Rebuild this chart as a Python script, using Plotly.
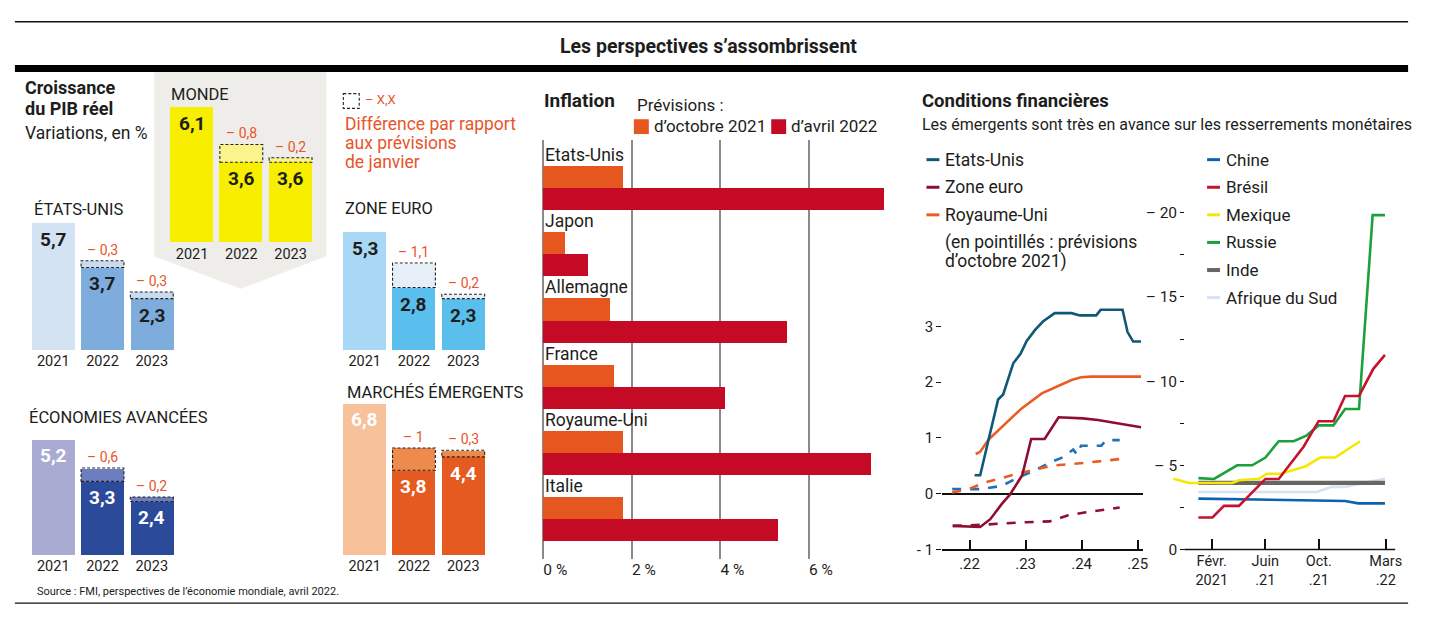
import plotly.graph_objects as go

W, H = 1436, 624
def fx(px): return px / W
def fy(py): return 1 - py / H

FONT = "Roboto, 'Open Sans', sans-serif"
TXT = "#1d1d1b"
RED_TXT = "#e8542a"

# ---------------- DATA ----------------
years = ["2021", "2022", "2023"]
monde = [6.1, 3.6, 3.6];       monde_rev = [0, 0.8, 0.2]
usa = [5.7, 3.7, 2.3];         usa_rev = [0, 0.3, 0.3]
zone_euro = [5.3, 2.8, 2.3];   ze_rev = [0, 1.1, 0.2]
avancees = [5.2, 3.3, 2.4];    av_rev = [0, 0.6, 0.2]
emergents = [6.8, 3.8, 4.4];   em_rev = [0, 1.0, 0.3]

countries = ["Etats-Unis", "Japon", "Allemagne", "France", "Royaume-Uni", "Italie"]
infl_oct = [1.8, 0.5, 1.5, 1.6, 1.8, 1.8]
infl_apr = [7.7, 1.0, 5.5, 4.1, 7.4, 5.3]

us_x = [2022.09, 2022.19, 2022.34, 2022.51, 2022.60, 2022.78, 2022.91, 2023.02, 2023.17, 2023.31,
        2023.52, 2023.82, 2023.97, 2024.26, 2024.34, 2024.73, 2024.82, 2024.92, 2025.06]
us_y = [0.33, 0.33, 0.97, 1.69, 1.78, 2.34, 2.51, 2.74, 2.94, 3.09,
        3.24, 3.24, 3.20, 3.20, 3.30, 3.30, 2.90, 2.73, 2.73]
uk_x = [2022.11, 2022.19, 2022.34, 2022.58, 2022.93, 2023.29, 2023.52, 2023.82, 2023.99, 2024.17, 2025.06]
uk_y = [0.71, 0.75, 0.97, 1.20, 1.53, 1.80, 1.91, 2.04, 2.09, 2.10, 2.10]
ez_x = [2021.70, 2022.19, 2022.37, 2022.58, 2022.72, 2022.94, 2023.10, 2023.34, 2023.59, 2024.02, 2024.29, 2025.06]
ez_y = [-0.58, -0.60, -0.46, -0.18, -0.02, 0.33, 0.98, 0.98, 1.37, 1.35, 1.32, 1.19]
us_f_x = [2021.69, 2022.22, 2022.58, 2022.87, 2023.17, 2023.46, 2023.64, 2023.85, 2023.92, 2023.99, 2024.35, 2024.44, 2024.68]
us_f_y = [0.08, 0.08, 0.14, 0.29, 0.42, 0.57, 0.64, 0.79, 0.70, 0.86, 0.86, 0.96, 0.96]
uk_f_x = [2021.69, 2021.98, 2022.28, 2022.87, 2023.46, 2024.05, 2024.68]
uk_f_y = [0.02, 0.08, 0.20, 0.36, 0.50, 0.55, 0.62]
ez_f_x = [2021.70, 2022.22, 2022.87, 2023.43, 2023.76, 2024.05, 2024.68]
ez_f_y = [-0.58, -0.56, -0.52, -0.50, -0.39, -0.34, -0.25]

# months since January 2021
mex_m = [-1.86, -0.69, 2.53, 3.03, 4.52, 5.13, 6.13, 7.99, 9.10, 10.22, 12.08]
mex_v = [4.20, 3.95, 3.95, 4.11, 4.20, 4.50, 4.50, 4.93, 5.46, 5.46, 6.43]
rus_m = [0.0, 1.17, 2.90, 4.02, 5.01, 6.0, 7.12, 8.11, 8.98, 10.09, 10.96, 12.0, 13.02, 13.94]
rus_v = [4.24, 4.19, 5.0, 5.0, 5.46, 6.43, 6.43, 6.78, 7.37, 7.37, 8.34, 8.34, 19.86, 19.86]
bra_m = [0.0, 1.05, 1.91, 3.03, 5.01, 6.0, 7.86, 8.98, 10.09, 10.96, 12.0, 13.07, 13.94]
bra_v = [1.90, 1.90, 2.59, 2.59, 4.19, 4.19, 6.10, 7.62, 7.62, 9.12, 9.12, 10.73, 11.56]
ind_m = [0.0, 13.94];  ind_v = [3.95, 3.95]
saf_m = [0.0, 8.85, 9.97, 10.96, 12.08, 13.94]
saf_v = [3.41, 3.41, 3.72, 3.72, 3.91, 4.20]
chn_m = [0.0, 10.22, 10.96, 11.95, 13.94]
chn_v = [3.02, 2.92, 2.88, 2.74, 2.74]
month_ticks = [1, 5, 9, 14]
month_labels = ["Févr.<br>2021", "Juin<br>.21", "Oct.<br>.21", "Mars<br>.22"]

# ---------------- FIGURE ----------------
fig = go.Figure()
layout = {}
shapes = []
annots = []

def ann(text, px, py, size=15, color=TXT, bold=False, xanchor="left", yanchor="middle", family=FONT):
    annots.append(dict(text=f"<b>{text}</b>" if bold else text, x=fx(px), y=fy(py), xref="paper", yref="paper",
                       xanchor=xanchor, yanchor=yanchor, showarrow=False,
                       font=dict(size=size, color=color, family=family)))

def fmt(v):
    return f"{v:g}".replace(".", ",")

# ---- frame lines
shapes.append(dict(type="line", xref="paper", yref="paper", x0=fx(15), x1=fx(1415), y0=fy(22), y1=fy(22),
                   line=dict(color="#111", width=1.6)))
shapes.append(dict(type="rect", xref="paper", yref="paper", x0=fx(15), x1=fx(1415), y0=fy(66), y1=fy(73),
                   fillcolor="#000", line=dict(width=0)))
shapes.append(dict(type="line", xref="paper", yref="paper", x0=fx(15), x1=fx(1415), y0=fy(612), y1=fy(612),
                   line=dict(color="#111", width=1.3)))
ann("Les perspectives s’assombrissent", 712, 47, size=19.5, bold=True, xanchor="center")

# ---- Monde grey background
path = (f"M {fx(155)},{fy(73)} L {fx(328)},{fy(73)} L {fx(328)},{fy(260)} "
        f"L {fx(242)},{fy(293)} L {fx(155)},{fy(260)} Z")
shapes.append(dict(type="path", xref="paper", yref="paper", path=path, fillcolor="#eeede9",
                   line=dict(width=0), layer="below"))

# ---- GDP panels
PXU = 22.6
SP = 49.5
panels = [
    dict(title="MONDE", vals=monde, rev=monde_rev, c=["#f7ee00", "#f7ee00", "#f7ee00"], crev="#fbf48c",
         lab="#1d1d1b", cx=193, bottom=246, tx=170, ty=96),
    dict(title="ÉTATS-UNIS", vals=usa, rev=usa_rev, c=["#d4e3f4", "#7eacdd", "#7eacdd"], crev="#c9dcef",
         lab="#1d1d1b", cx=53.5, bottom=355, tx=32, ty=213),
    dict(title="ZONE EURO", vals=zone_euro, rev=ze_rev, c=["#a8d8f5", "#5bbfee", "#5bbfee"], crev="#e6eef7",
         lab="#1d1d1b", cx=366.5, bottom=355, tx=345, ty=212),
    dict(title="ÉCONOMIES AVANCÉES", vals=avancees, rev=av_rev, c=["#aaabd3", "#2c4a9a", "#2c4a9a"], crev="#6c7ebd",
         lab="#ffffff", cx=53.5, bottom=563, tx=27, ty=424),
    dict(title="MARCHÉS ÉMERGENTS", vals=emergents, rev=em_rev, c=["#f7c19a", "#e55a20", "#e55a20"], crev="#ee8a4c",
         lab="#ffffff", cx=366.5, bottom=563, tx=347, ty=398),
]
BW = 0.87
for k, p in enumerate(panels, start=1):
    sfx = "" if k == 1 else str(k)
    xa, ya = "x" + sfx, "y" + sfx
    fig.add_trace(go.Bar(x=years, y=p["vals"], marker=dict(color=p["c"], line_width=0), width=BW,
                         xaxis=xa, yaxis=ya, showlegend=False, hoverinfo="skip"))
    fig.add_trace(go.Bar(x=years[1:], y=p["rev"][1:], base=p["vals"][1:], marker=dict(color=p["crev"], line_width=0),
                         width=BW, xaxis=xa, yaxis=ya, showlegend=False, hoverinfo="skip"))
    layout["xaxis" + sfx] = dict(domain=[fx(p["cx"] - SP / 2), fx(p["cx"] + 2.5 * SP)], anchor=ya, range=[-0.5, 2.5],
                                 showgrid=False, showline=False, zeroline=False, ticks="", ticklabelstandoff=1,
                                 tickfont=dict(size=14.5, color=TXT, family=FONT), fixedrange=True)
    layout["yaxis" + sfx] = dict(domain=[fy(p["bottom"]), fy(p["bottom"] - 7.2 * PXU)], anchor=xa, range=[0, 7.2],
                                 visible=False, fixedrange=True)
    for i, (v, r) in enumerate(zip(p["vals"], p["rev"])):
        annots.append(dict(text=f"<b>{fmt(v)}</b>", x=i, y=v, xref=xa, yref=ya, yanchor="top", yshift=-3,
                           showarrow=False, font=dict(size=19, color=p["lab"], family=FONT)))
        if r:
            shapes.append(dict(type="rect", xref=xa, yref=ya, x0=i - BW / 2, x1=i + BW / 2, y0=v, y1=v + r,
                               line=dict(color="#222", width=1.1, dash="3px,2px")))
            annots.append(dict(text=f"– {fmt(r)}", x=i, y=v + r, xref=xa, yref=ya, yanchor="bottom", yshift=1,
                               showarrow=False, font=dict(size=14, color=RED_TXT, family=FONT)))
    ann(p["title"], p["tx"], p["ty"], size=16.5)

ann("Croissance", 23, 89, size=18, bold=True)
ann("du PIB réel", 23, 110, size=18, bold=True)
ann("Variations, en %", 23, 135, size=17.5)
shapes.append(dict(type="rect", xref="paper", yref="paper", x0=fx(345), x1=fx(361), y0=fy(95), y1=fy(110),
                   line=dict(color="#222", width=1.1, dash="3px,2px")))
ann("– X,X", 365, 101, size=13, color=RED_TXT)
ann("Différence par rapport", 345, 126, size=17.5, color=RED_TXT)
ann("aux prévisions", 345, 145, size=17.5, color=RED_TXT)
ann("de janvier", 345, 164, size=17.5, color=RED_TXT)
ann("Source : FMI, perspectives de l’économie mondiale, avril 2022.", 35, 600, size=11)

# ---- Inflation
ORANGE, CRIMSON = "#e5571f", "#c40a25"
PXP = 44.5
n = len(countries)
slots_top, slots_bot = -0.18, 3 * n + 0.8
fig.add_trace(go.Bar(y=[3 * i + 1.5 for i in range(n)], x=infl_oct, orientation="h", width=1,
                     marker=dict(color=ORANGE, line_width=0), xaxis="x6", yaxis="y6",
                     showlegend=False, hoverinfo="skip"))
fig.add_trace(go.Bar(y=[3 * i + 2.5 for i in range(n)], x=infl_apr, orientation="h", width=1,
                     marker=dict(color=CRIMSON, line_width=0), xaxis="x6", yaxis="y6",
                     showlegend=False, hoverinfo="skip"))
layout["xaxis6"] = dict(domain=[fx(546 - 0.05 * PXP), fx(546 + 8 * PXP)], anchor="y6", range=[-0.05, 8],
                        tickvals=[0, 2, 4, 6], ticktext=["0 %", "2 %", "4 %", "6 %"],
                        ticklabelposition="outside right",
                        showgrid=True, gridcolor="#8a8a8a", gridwidth=1.5, zeroline=False, showline=False,
                        ticks="", tickfont=dict(size=15.5, color=TXT, family=FONT), fixedrange=True)
layout["yaxis6"] = dict(domain=[fy(567), fy(142)], anchor="x6", range=[slots_bot, slots_top], visible=False,
                        fixedrange=True)
for i, c in enumerate(countries):
    annots.append(dict(text=c, x=0, y=3 * i + 0.5, xref="x6", yref="y6", xanchor="left", xshift=0,
                       showarrow=False, font=dict(size=17.5, color=TXT, family=FONT)))
ann("Inflation", 545, 102, size=19, bold=True)
ann("Prévisions :", 638, 107, size=17)
shapes.append(dict(type="rect", xref="paper", yref="paper", x0=fx(637), x1=fx(652), y0=fy(121), y1=fy(136),
                   fillcolor=ORANGE, line=dict(width=0)))
ann("d’octobre 2021", 655, 128, size=17)
shapes.append(dict(type="rect", xref="paper", yref="paper", x0=fx(775), x1=fx(790), y0=fy(121), y1=fy(136),
                   fillcolor=CRIMSON, line=dict(width=0)))
ann("d’avril 2022", 793, 128, size=17)

# ---- Financial conditions, left
C_US, C_EZ, C_UK, C_USF = "#0f5878", "#8e0f32", "#ea5c24", "#1f72b8"
left_series = [
    (us_f_x, us_f_y, C_USF, "dash"), (uk_f_x, uk_f_y, C_UK, "dash"), (ez_f_x, ez_f_y, C_EZ, "dash"),
    (ez_x, ez_y, C_EZ, "solid"), (uk_x, uk_y, C_UK, "solid"), (us_x, us_y, C_US, "solid"),
]
for xs, ys, col, dash in left_series:
    fig.add_trace(go.Scatter(x=xs, y=ys, mode="lines", line=dict(color=col, width=2.6, dash=dash),
                             xaxis="x7", yaxis="y7", showlegend=False, hoverinfo="skip"))
PXL = 56.5
layout["xaxis7"] = dict(domain=[fx(946.7), fx(1148.3)], anchor="y7", range=[2021.51, 2025.09],
                        tickvals=[2021.515, 2022, 2023, 2024, 2025], ticktext=["", ".22", ".23", ".24", ".25"],
                        ticks="inside", ticklen=10, tickwidth=1.5, tickcolor="#111",
                        showline=True, linecolor="#111", linewidth=1.5, showgrid=False, zeroline=False,
                        tickfont=dict(size=15, color=TXT, family=FONT), fixedrange=True)
layout["yaxis7"] = dict(domain=[fy(557.3), fy(557.3 - 4.56 * PXL)], anchor="x7", range=[-1, 3.56],
                        tickvals=[-1, 0, 1, 2, 3], ticktext=["- 1", "0", "1", "2", "3"],
                        ticks="outside", ticklen=5, tickwidth=1.3, tickcolor="#111",
                        showline=False, showgrid=False, zeroline=True, zerolinecolor="#111", zerolinewidth=1.5,
                        tickfont=dict(size=15, color=TXT, family=FONT), fixedrange=True)
ann("Conditions financières", 925, 102, size=18.5, bold=True)
ann("Les émergents sont très en avance sur les resserrements monétaires", 925, 126, size=16)
for (name, col, yy) in [("Etats-Unis", C_US, 162), ("Zone euro", C_EZ, 190), ("Royaume-Uni", C_UK, 218)]:
    shapes.append(dict(type="line", xref="paper", yref="paper", x0=fx(931), x1=fx(944), y0=fy(yy), y1=fy(yy),
                       line=dict(color=col, width=3)))
    ann(name, 948, yy, size=17.5)
ann("(en pointillés : prévisions", 948, 246, size=17.5)
ann("d’octobre 2021)", 948, 265, size=17.5)

# ---- Financial conditions, right
C_CHN, C_BRA, C_MEX, C_RUS, C_IND, C_SAF = "#0a63ae", "#c4122f", "#f5e800", "#1ba13b", "#666666", "#d3e2f5"
right_series = [
    ("Chine", chn_m, chn_v, C_CHN, 2.6), ("Afrique du Sud", saf_m, saf_v, C_SAF, 2.6),
    ("Inde", ind_m, ind_v, C_IND, 4.2), ("Mexique", mex_m, mex_v, C_MEX, 2.6),
    ("Russie", rus_m, rus_v, C_RUS, 2.6), ("Brésil", bra_m, bra_v, C_BRA, 2.6),
]
for name, xs, ys, col, wdt in right_series:
    fig.add_trace(go.Scatter(x=xs, y=ys, mode="lines", line=dict(color=col, width=wdt), name=name,
                             xaxis="x8", yaxis="y8", showlegend=False, hoverinfo="skip"))
PXM = 13.45
PXV = 17.08
m_lo = 1 + (1176 - 1217.7) / PXM
m_hi = 1 + (1402 - 1217.7) / PXM
layout["xaxis8"] = dict(domain=[fx(1176), fx(1402)], anchor="y8", range=[m_lo, m_hi],
                        tickvals=month_ticks, ticktext=month_labels,
                        ticks="inside", ticklen=10, tickwidth=1.5, tickcolor="#111",
                        showline=False, showgrid=False, zeroline=False, ticklabelstandoff=1,
                        tickfont=dict(size=14.5, color=TXT, family=FONT), fixedrange=True)
layout["yaxis8"] = dict(domain=[fy(557.5), fy(557.5 - 20.93 * PXV)], anchor="free", position=fx(1190),
                        range=[0, 20.93],
                        tickvals=[0, 2.5, 5, 7.5, 10, 12.5, 15, 17.5, 20],
                        ticktext=["0", "", "– 5", "", "– 10", "", "– 15", "", "– 20"],
                        ticks="outside", ticklen=4, tickwidth=1.3, tickcolor="#111",
                        showline=False, showgrid=False, zeroline=False,
                        tickfont=dict(size=15.5, color=TXT, family=FONT), fixedrange=True)
shapes.append(dict(type="line", xref="paper", yref="paper", x0=fx(1190), x1=fx(1402), y0=fy(557.5), y1=fy(557.5),
                   line=dict(color="#111", width=1.5)))
for (name, col, yy, wdt) in [("Chine", C_CHN, 162, 3), ("Brésil", C_BRA, 190, 3), ("Mexique", C_MEX, 218, 3),
                             ("Russie", C_RUS, 246, 3), ("Inde", C_IND, 274, 4), ("Afrique du Sud", C_SAF, 302, 3)]:
    shapes.append(dict(type="line", xref="paper", yref="paper", x0=fx(1213), x1=fx(1226), y0=fy(yy), y1=fy(yy),
                       line=dict(color=col, width=wdt)))
    ann(name, 1230, yy, size=17)

layout.update(dict(width=W, height=H, margin=dict(l=0, r=0, t=0, b=0), paper_bgcolor="white",
                   plot_bgcolor="rgba(0,0,0,0)", barmode="overlay", bargap=0,
                   font=dict(family=FONT, color=TXT), shapes=shapes, annotations=annots, showlegend=False))
fig.update_layout(**layout)
fig.write_html("out.html", config={"displayModeBar": False},
               post_script=("var s=document.documentElement.style;s.margin='0';s.padding='0';s.overflow='hidden';"
                            "var b=document.body.style;b.margin='0';b.padding='0';b.overflow='hidden';"))
